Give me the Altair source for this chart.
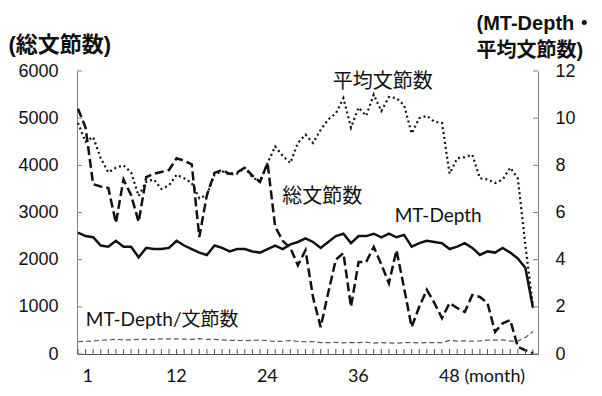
import altair as alt
import pandas as pd

# ---- data ----
months = list(range(1, 62))

# 総文節数 (left axis)
total = [5200, 4800, 3600, 3550, 3520, 2780, 3700, 3370, 2800, 3750,
         3820, 3860, 3900, 4150, 4100, 4020, 2480, 3370, 3840, 3900,
         3820, 3850, 3950, 3780, 3650, 4050, 2700, 2400, 2250, 1880,
         2200, 1200, 570, 1300, 2000, 2140, 1000, 1950, 1950, 2270,
         1900, 1500, 2200, 1400, 570, 1000, 1360, 1080, 760, 1080,
         975, 890, 1250, 1210, 1080, 470, 650, 720, 150, 80, 20]

# 平均文節数 (right axis)
avg = [9.8, 9.0, 9.2, 8.3, 7.7, 7.9, 8.0, 7.7, 6.7, 7.3,
       7.4, 7.0, 7.15, 7.6, 7.45, 7.25, 6.6, 6.75, 7.6, 7.75,
       7.6, 7.65, 7.9, 7.5, 7.3, 8.1, 8.8, 8.4, 8.1, 8.95,
       9.3, 8.95, 9.5, 9.95, 10.2, 10.85, 9.6, 10.45, 10.1, 11.0,
       10.3, 10.9, 10.85, 10.55, 9.35, 10.0, 10.1, 9.85, 9.8, 7.65,
       8.3, 8.35, 8.45, 7.45, 7.4, 7.25, 7.4, 7.9, 7.45, 4.6, 2.0]

# MT-Depth (right axis)
depth = [5.15, 5.0, 4.95, 4.6, 4.55, 4.8, 4.55, 4.55, 4.1, 4.5,
         4.45, 4.45, 4.5, 4.8, 4.6, 4.45, 4.3, 4.2, 4.6, 4.5,
         4.35, 4.45, 4.45, 4.35, 4.3, 4.45, 4.6, 4.45, 4.65, 4.75,
         4.9, 4.75, 4.5, 4.75, 5.0, 5.1, 4.7, 5.0, 5.0, 5.1,
         4.95, 5.1, 4.95, 5.05, 4.55, 4.7, 4.8, 4.75, 4.7, 4.45,
         4.55, 4.7, 4.5, 4.2, 4.35, 4.3, 4.5, 4.3, 4.05, 3.65, 1.95]

# MT-Depth/文節数 (right axis)
ratio = [0.52, 0.54, 0.55, 0.58, 0.6, 0.62, 0.6, 0.6, 0.62, 0.62,
         0.62, 0.64, 0.64, 0.64, 0.63, 0.62, 0.65, 0.62, 0.62, 0.6,
         0.58, 0.58, 0.57, 0.58, 0.59, 0.56, 0.53, 0.54, 0.57, 0.53,
         0.52, 0.53, 0.48, 0.48, 0.49, 0.47, 0.49, 0.48, 0.5, 0.46,
         0.48, 0.47, 0.46, 0.48, 0.49, 0.47, 0.48, 0.48, 0.48, 0.58,
         0.55, 0.56, 0.54, 0.56, 0.59, 0.59, 0.6, 0.55, 0.55, 0.7, 0.95]

x_label_values = [1, 12, 24, 36, 48]
left_tick_values = [0, 1000, 2000, 3000, 4000, 5000, 6000]
right_tick_values = [0, 2, 4, 6, 8, 10, 12]

left_labels = ["総文節数"]
left_label_x = [33.2]
left_label_y = [3330]

right_labels = ["平均文節数", "MT-Depth", "MT-Depth/文節数"]
right_label_x = [41.2, 48.5, 12.1]
right_label_y = [11.53, 5.85, 1.44]
right_label_size = [20, 19, 19]

# ---- tables ----
df = pd.DataFrame({"month": months, "total": total, "avg": avg,
                   "depth": depth, "ratio": ratio})
df_mticks = pd.DataFrame({"month": months})
df_lticks = pd.DataFrame({"total": left_tick_values})
df_rticks = pd.DataFrame({"avg": right_tick_values})
df_llab = pd.DataFrame({"label": left_labels, "month": left_label_x, "total": left_label_y})
df_rlab = pd.DataFrame({"label": right_labels, "month": right_label_x,
                        "avg": right_label_y, "fs": right_label_size})

W, H = 461, 283
TXT_FONT = "Lato, Noto Sans CJK JP, sans-serif"
TITLE_FONT = "Liberation Sans, Noto Sans CJK JP, sans-serif"
INK = "#111111"
AXC = "#808080"

xscale = alt.Scale(domain=[0.87, 61.66], nice=False, zero=False)
lscale = alt.Scale(domain=[0, 6000], nice=False)
rscale = alt.Scale(domain=[0, 12], nice=False)

x_axis = alt.Axis(values=x_label_values,
                  labelExpr="datum.value == 48 ? '48 (month)' : datum.label",
                  ticks=False, grid=False, domainColor="#555555", domainWidth=1.2,
                  labelFont="Lato", labelFontSize=18, labelColor=INK,
                  labelAlign="left", labelOffset=4, labelPadding=13,
                  labelFlush=False, title=None)

left_axis = alt.Axis(values=left_tick_values, orient="left", ticks=False, grid=False,
                     domainColor=AXC, labelFont="Liberation Sans", labelFontSize=18,
                     labelColor=INK, labelPadding=19, format="d",
                     title="(総文節数)", titleAngle=0, titleX=-69, titleY=-27,
                     titleAlign="left", titleBaseline="middle",
                     titleFont=TITLE_FONT, titleFontSize=22,
                     titleFontWeight="bold", titleColor=INK)

right_axis = alt.Axis(values=right_tick_values, orient="right", ticks=False, grid=False,
                      domainColor=AXC, labelFont="Liberation Sans", labelFontSize=18,
                      labelColor=INK, labelPadding=17, format="d",
                      title=["(MT-Depth・", "平均文節数)"], titleAngle=0,
                      titleX=-62, titleY=-58, titleAlign="left", titleBaseline="top",
                      titleLineHeight=27,
                      titleFont=TITLE_FONT, titleFontSize=20,
                      titleFontWeight="bold", titleColor=INK)

X = alt.X("month:Q", scale=xscale, axis=x_axis)
YL = alt.Y("total:Q", scale=lscale, axis=left_axis)
YR = alt.Y("avg:Q", scale=rscale, axis=right_axis)

# ---- left (総文節数) ----
total_line = alt.Chart(df).mark_line(color=INK, strokeWidth=2.5, strokeDash=[9, 4]).encode(
    x=X, y=YL)
left_ticks = alt.Chart(df_lticks).mark_rule(color=AXC).encode(
    y=YL, x=alt.value(0), x2=alt.value(5))
bottom_ticks = alt.Chart(df_mticks).mark_rule(color="#555555").encode(
    x=X, y=alt.value(H - 5), y2=alt.value(H))
left_text = alt.Chart(df_llab).mark_text(font=TXT_FONT, fontSize=20, color=INK,
                                         align="center", baseline="middle").encode(
    x=X, y=YL, text="label:N")
left = alt.layer(total_line, left_ticks, bottom_ticks, left_text)

# ---- right (平均文節数, MT-Depth, MT-Depth/文節数) ----
avg_line = alt.Chart(df).mark_line(color=INK, strokeWidth=2.2, strokeDash=[2, 3]).encode(
    x=X, y=YR)
depth_line = alt.Chart(df).transform_calculate(avg="datum.depth").mark_line(
    color=INK, strokeWidth=2.5).encode(x=X, y=YR)
ratio_line = alt.Chart(df).transform_calculate(avg="datum.ratio").mark_line(
    color="#555555", strokeWidth=1.2, strokeDash=[5, 3]).encode(x=X, y=YR)
right_ticks = alt.Chart(df_rticks).mark_rule(color=AXC).encode(
    y=YR, x=alt.value(W - 5), x2=alt.value(W))
right_text = alt.Chart(df_rlab).mark_text(font=TXT_FONT, color=INK,
                                          align="center", baseline="middle").encode(
    x=X, y=YR, text="label:N",
    size=alt.Size("fs:Q", scale=None, legend=None))
right = alt.layer(avg_line, depth_line, ratio_line, right_ticks, right_text)

chart = alt.layer(left, right).resolve_scale(y="independent").properties(
    width=W, height=H,
    autosize=alt.AutoSizeParams(type="none"),
    padding={"left": 69, "top": 63, "right": 56, "bottom": 34},
    background="white",
).configure_view(stroke=None)

chart.save("out.html", embed_options={"renderer": "svg", "actions": False})
